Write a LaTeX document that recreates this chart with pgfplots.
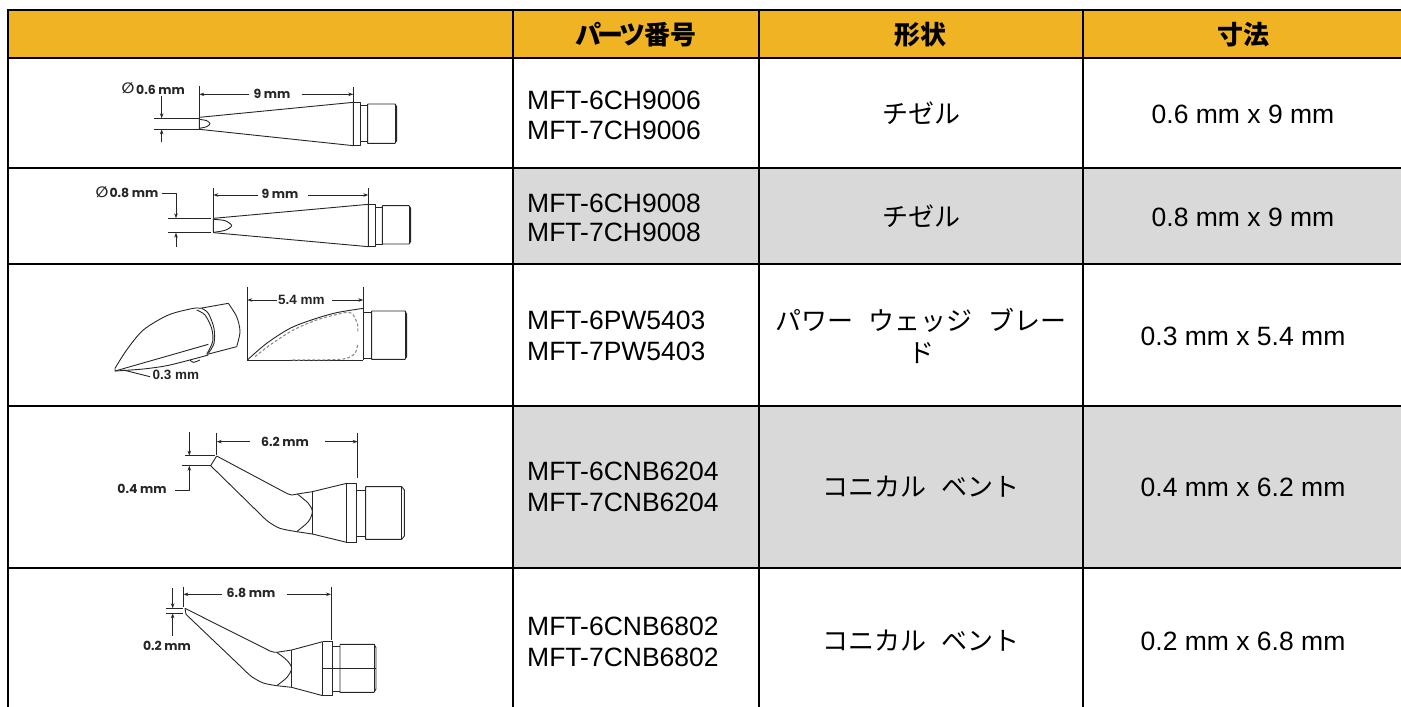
\documentclass[border=0pt]{standalone}
\usepackage{fontspec}
\usepackage{pgfplots}
\pgfplotsset{compat=1.18}
\usetikzlibrary{arrows.meta}
\setmainfont{Liberation Sans}
\newfontfamily\cjk{Noto Sans CJK JP}
\newfontfamily\cjkp[RawFeature=+palt]{Noto Sans CJK JP}
\newfontfamily\dimf{Poppins}
\newfontfamily\sym{DejaVu Sans}
\definecolor{hdr}{HTML}{F0B323}
\definecolor{grayc}{HTML}{D9D9D9}
\pgfplotsset{
 za/.style={x filter/.expression={90+x/3},y filter/.expression={60+y/3}},
 zb/.style={x filter/.expression={90+x/3},y filter/.expression={265+y/3}},
 zc/.style={x filter/.expression={90+x/3},y filter/.expression={410+y/3}},
 zd/.style={x filter/.expression={120+x/3},y filter/.expression={565+y/3}},
 ar/.style={-{Stealth[length=5pt,width=3.5pt]}},
}
\newcommand\dl[2]{\addplot[draw=black!85,line width=0.9pt,line join=round,#1] coordinates {#2};}
\newcommand\gridl[1]{\addplot[draw=black,line width=2pt] coordinates {#1};}
\newcommand\fillr[2]{\addplot[fill=#1,draw=none] coordinates {#2};}
\newcommand\tl[3]{\node[anchor=base west,inner sep=0pt,font=\fontsize{26.5}{26.5}\selectfont] at (axis cs:#1,#2) {#3};}
\newcommand\tc[3]{\node[anchor=base,inner sep=0pt,font=\fontsize{26.5}{26.5}\selectfont] at (axis cs:#1,#2) {#3};}
\newcommand\tj[3]{\node[anchor=base,inner sep=0pt,font=\fontsize{26}{26}\selectfont\cjk] at (axis cs:#1,#2) {#3};}
\newcommand\thd[3]{\node[anchor=base,inner sep=0pt,font=\fontsize{26}{26}\selectfont\cjkp\bfseries] at (axis cs:#1,#2) {#3};}
\newcommand\dt[3]{\node[anchor=center,inner sep=0pt,font=\fontsize{12.5}{12.5}\selectfont\dimf\bfseries\color{black!85}] at (axis cs:#1,#2) {#3};}
\newcommand\dtb[3]{\node[anchor=center,inner sep=0pt,font=\fontsize{13.5}{13.5}\selectfont\bfseries\color{black!85}] at (axis cs:#1,#2) {#3};}
\newcommand\dphi[2]{\node[anchor=center,inner sep=0pt,font=\fontsize{15}{15}\selectfont\sym\bfseries\color{black!85}] at (axis cs:#1,#2) {∅};}
\begin{document}
\begin{tikzpicture}[x=1pt,y=1pt]
\path[use as bounding box] (0,0) rectangle (1401pt,707pt);
\begin{axis}[at={(0pt,0pt)},anchor=south west,x=1pt,y=1pt,y dir=reverse,hide axis,
  xmin=0,xmax=1401,ymin=0,ymax=707,no markers,clip=true]
% fills
\fillr{hdr}{(8,10)(1401,10)(1401,58)(8,58)}
\fillr{grayc}{(513,168)(1401,168)(1401,264)(513,264)}
\fillr{grayc}{(513,406)(1401,406)(1401,568)(513,568)}
% grid
\gridl{(7,10)(1401,10)}
\gridl{(7,58)(1401,58)}
\gridl{(7,168)(1401,168)}
\gridl{(7,264)(1401,264)}
\gridl{(7,406)(1401,406)}
\gridl{(7,568)(1401,568)}
\gridl{(8,9)(8,707)}
\gridl{(513,9)(513,707)}
\gridl{(759,9)(759,707)}
\gridl{(1083,9)(1083,707)}
% drawing 1
\dl{za}{(328,172)(790,127)(790,257)(328,208)(328,172)}
\dl{za}{(790,127)(812,127)(812,257)(790,257)}
\dl{za}{(812,135)(833,135)(833,245)(812,245)}
\dl{za}{(833,132)(915,132)(920,140)(920,242)(915,250)(833,250)(833,132)}
\dl{za}{(915,132)(915,250)}
\dl{za,smooth}{(328,178)(350,182)(360,191)(350,200)(328,205)}
\dl{za}{(328,78)(328,172)}
\dl{za}{(790,80)(790,127)}
\dl{za,ar}{(478,103)(328,103)}
\dl{za,ar}{(635,103)(790,103)}
\dl{za}{(193,175)(328,175)}
\dl{za}{(193,208)(328,208)}
\dl{za,ar}{(215,108)(215,175)}
\dl{za,ar}{(215,247)(215,208)}
\dt{272}{93.5}{9 mm}
\dphi{128}{88.5}
\dt{160.5}{89.5}{0.6 mm}
% drawing 2
\dl{za}{(370,475)(835,433)(835,560)(370,518)(370,475)}
\dl{za}{(835,433)(857,433)(857,560)(835,560)}
\dl{za}{(857,442)(877,442)(877,552)(857,552)}
\dl{za}{(877,437)(957,437)(962,445)(962,545)(957,552)(877,552)(877,437)}
\dl{za}{(957,437)(957,552)}
\dl{za,smooth}{(370,478)(405,482)(425,497)(405,511)(370,517)}
\dl{za}{(370,385)(370,475)}
\dl{za}{(835,385)(835,433)}
\dl{za,ar}{(505,405)(370,405)}
\dl{za,ar}{(655,405)(835,405)}
\dl{za}{(235,475)(362,475)}
\dl{za}{(235,518)(362,518)}
\dl{za,ar}{(215,400)(258,400)(258,475)}
\dl{za,ar}{(258,560)(258,518)}
\dt{280}{193.5}{9 mm}
\dphi{102}{192}
\dt{134}{193}{0.8 mm}
% drawing 3, right view
\dl{zb}{(472,65)(472,285)}
\dl{zb}{(820,65)(820,285)}
\dl{zb,ar}{(560,105)(472,105)}
\dl{zb,ar}{(725,105)(820,105)}
\dl{zb}{(472,285)(820,285)}
\dl{zb,smooth}{(472,285)(530,235)(600,190)(670,163)(740,143)(820,130)}
\dl{zb,smooth,draw=black!45,line width=1.1pt,densely dashed}{(495,275)(540,240)(610,195)(680,165)(750,146)(775,142)(790,150)(803,180)(803,205)}
\dl{zb,smooth,draw=black!45,line width=1.1pt,densely dashed}{(803,240)(795,265)(770,280)(730,284)(600,285)}
\dl{zb}{(820,142)(845,142)}
\dl{zb}{(820,280)(845,280)}
\dl{zb}{(845,138)(945,138)(950,148)(950,275)(945,283)(845,283)(845,138)}
\dl{zb}{(945,138)(945,283)}
\dtb{301.5}{300}{5.4 mm}
% drawing 3, left view
\dl{zb,smooth}{(75,310)(110,255)(160,195)(235,150)(310,130)(330,130)}
\dl{zb}{(330,130)(415,115)}
\dl{zb,smooth}{(415,115)(440,155)(450,200)(440,245)}
\dl{zb}{(440,245)(352,268)}
\dl{zb,smooth}{(320,135)(345,150)(365,190)(368,230)(350,268)}
\dl{zb,smooth}{(335,130)(355,145)(372,190)(372,235)(355,265)}
\dl{zb}{(75,310)(75,318)(355,238)}
\dl{zb,smooth}{(75,318)(160,312)(240,300)(355,270)}
\dl{zb,smooth}{(300,285)(310,292)(330,285)}
\dl{zb}{(100,315)(180,335)}
\dtb{176}{375}{0.3 mm}
% drawing 4
\dl{zc}{(380,68)(380,135)}
\dl{zc}{(803,68)(803,205)}
\dl{zc,ar}{(480,95)(380,95)}
\dl{zc,ar}{(705,95)(803,95)}
\dl{zc}{(285,137)(375,137)}
\dl{zc}{(277,167)(362,167)}
\dl{zc,ar}{(298,65)(298,137)}
\dl{zc,ar}{(255,240)(298,240)(298,167)}
\dl{zc}{(380,138)(362,167)}
\dl{zc}{(380,138)(590,250)}
\dl{zc,smooth}{(590,250)(605,255)(622,252)}
\dl{zc}{(622,252)(667,245)(770,220)}
\dl{zc}{(362,167)(510,312)}
\dl{zc,smooth}{(510,312)(535,335)(570,355)(620,365)}
\dl{zc}{(620,365)(667,372)(770,397)}
\dl{zc,smooth}{(622,252)(655,280)(667,305)(655,335)(620,365)}
\dl{zc}{(667,245)(667,372)}
\dl{zc}{(770,220)(800,220)(800,397)(770,397)(770,220)}
\dl{zc}{(800,240)(827,240)}
\dl{zc}{(800,380)(827,380)}
\dl{zc}{(827,230)(935,230)(943,240)(943,378)(935,388)(827,388)(827,230)}
\dl{zc}{(935,230)(935,388)}
\dt{285}{441.5}{6.2 mm}
\dt{142}{489}{0.4 mm}
% drawing 5
\dl{zd}{(190,65)(190,125)}
\dl{zd}{(633,65)(633,225)}
\dl{zd,ar}{(305,88)(190,88)}
\dl{zd,ar}{(500,88)(633,88)}
\dl{zd}{(138,130)(190,130)}
\dl{zd}{(138,145)(190,145)}
\dl{zd,ar}{(158,70)(158,130)}
\dl{zd,ar}{(158,213)(158,145)}
\dl{zd}{(195,130)(198,148)}
\dl{zd}{(195,130)(450,258)}
\dl{zd,smooth}{(450,258)(460,261)(470,262)}
\dl{zd}{(470,262)(515,255)(608,230)}
\dl{zd}{(198,148)(370,312)}
\dl{zd,smooth}{(370,312)(395,335)(430,354)(470,362)}
\dl{zd}{(470,362)(515,367)(608,392)}
\dl{zd,smooth}{(470,262)(500,285)(515,310)(500,338)(470,362)}
\dl{zd}{(515,255)(515,367)}
\dl{zd}{(608,230)(636,230)(636,392)(608,392)(608,230)}
\dl{zd}{(636,245)(660,245)}
\dl{zd}{(636,378)(660,378)}
\dl{zd}{(660,238)(762,238)(768,248)(768,372)(762,382)(660,382)(660,238)}
\dl{zd}{(762,238)(762,382)}
\dl{zd}{(608,310)(768,310)}
\dt{251}{593}{6.8 mm}
\dt{167}{646}{0.2 mm}
% header
\thd{636}{44}{パ\kern-3pt ー\kern-3pt ツ\kern-1pt 番号}
\thd{920}{44}{形状}
\thd{1243}{44}{寸法}
% part numbers
\tl{527}{109}{MFT-6CH9006}
\tl{527}{139}{MFT-7CH9006}
\tl{527}{212}{MFT-6CH9008}
\tl{527}{241}{MFT-7CH9008}
\tl{527}{329}{MFT-6PW5403}
\tl{527}{360}{MFT-7PW5403}
\tl{527}{480}{MFT-6CNB6204}
\tl{527}{511}{MFT-7CNB6204}
\tl{527}{635}{MFT-6CNB6802}
\tl{527}{666}{MFT-7CNB6802}
% shapes
\tj{921}{123}{チゼル}
\tj{921}{226}{チゼル}
\tj{921}{330}{パワー\hspace{16pt}ウェッジ\hspace{16pt}ブレー}
\tj{921}{362}{ド}
\tj{921}{496}{コニカル\hspace{16pt}ベント}
\tj{921}{650}{コニカル\hspace{16pt}ベント}
% dimensions
\tc{1243}{123}{0.6 mm x 9 mm}
\tc{1243}{226}{0.8 mm x 9 mm}
\tc{1243}{345}{0.3 mm x 5.4 mm}
\tc{1243}{496}{0.4 mm x 6.2 mm}
\tc{1243}{650}{0.2 mm x 6.8 mm}
\end{axis}
\end{tikzpicture}
\end{document}
